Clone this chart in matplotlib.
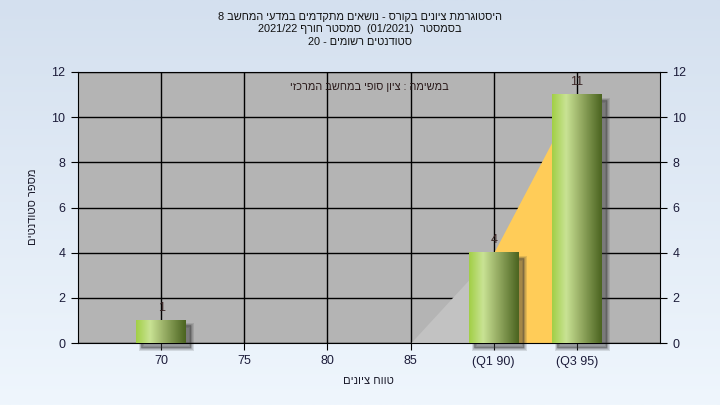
import re
import numpy as np
import matplotlib
matplotlib.use("Agg")
import matplotlib.pyplot as plt
from matplotlib.colors import LinearSegmentedColormap, to_rgb
from matplotlib.patches import Rectangle
from matplotlib.transforms import ScaledTranslation

# -----------------------------
# data
# -----------------------------
grades = [70, 75, 80, 85, 90, 95]
counts = [1, 0, 0, 0, 4, 11]
tick_labels = ["70", "75", "80", "85", "(Q1 90)", "(Q3 95)"]
area_vals = [0, 0, 0, 0, 4, 11]
q1, q3 = 90, 95
y_ticks = [0, 2, 4, 6, 8, 10, 12]

title_lines = [
    "היסטוגרמת ציונים בקורס - נושאים מתקדמים במדעי המחשב 8",
    "בסמסטר  (01/2021)  סמסטר חורף 2021/22",
    "סטודנטים רשומים - 20",
]
inner_text = "במשימה : ציון סופי במחשב המרכזי"
x_label = "טווח ציונים"
y_label = "מספר סטודנטים"


def visual(s):
    # logical hebrew -> left-to-right drawing order
    out = s[::-1]
    out = re.sub(r"[0-9A-Za-z][0-9A-Za-z/.]*[0-9A-Za-z]|[0-9A-Za-z]",
                 lambda m: m.group(0)[::-1], out)
    return out.translate(str.maketrans("()", ")("))


plt.rcParams["font.family"] = ["Liberation Sans", "DejaVu Sans"]

fig = plt.figure(figsize=(7.2, 4.05), dpi=100)

# background gradient
bg = fig.add_axes([0, 0, 1, 1], zorder=-10)
bg.axis("off")
top = np.array(to_rgb("#d4e0ef"))
bot = np.array(to_rgb("#eff6fd"))
t = np.linspace(0, 1, 256)[:, None]
grad = top * (1 - t) + bot * t
bg.imshow(grad[:, None, :], aspect="auto", extent=[0, 1, 0, 1])

ax = fig.add_axes([78 / 720, 62 / 405, 582 / 720, 271 / 405])
ax.set_facecolor("#b4b4b4")
ax.grid(True, color="black", lw=1)
ax.set_axisbelow(True)

# area (IQR highlighted)
for i in range(len(grades) - 1):
    x0, x1 = grades[i], grades[i + 1]
    a0, a1 = area_vals[i], area_vals[i + 1]
    if a0 == 0 and a1 == 0:
        continue
    col = "#ffcc58" if (x0 >= q1 and x1 <= q3) else "#c2c2c2"
    ax.fill_between([x0, x1], [a0, a1], color=col, lw=0, zorder=1.5)

# bars with gradient + soft shadow
bars = ax.bar(grades, counts, width=3, color="none", zorder=3)
cmap = LinearSegmentedColormap.from_list(
    "bar", [(0, "#a2cf47"), (0.28, "#c9e394"), (0.55, "#9bb168"), (1, "#4b6420")])
off = ScaledTranslation(5 / 100, -5 / 100, fig.dpi_scale_trans)
for b, c in zip(bars, counts):
    if c <= 0:
        continue
    x, w, h = b.get_x(), b.get_width(), b.get_height()
    for lw in [5, 3, 1.5, 0]:
        ax.add_patch(Rectangle((x, 0), w, h, transform=ax.transData + off,
                               fc="#383838", ec="#383838", lw=lw * 0.72,
                               alpha=0.14, zorder=2.5, clip_on=False))
    ax.imshow(np.linspace(0, 1, 100)[None, :], cmap=cmap, extent=[x, x + w, 0, h],
              aspect="auto", zorder=3, interpolation="bicubic")
    ax.text(b.get_x() + w / 2, h + 0.3, str(c), ha="center", va="bottom",
            fontsize=9, color="#3b2626", zorder=4)

ax.set_xlim(65, 100)
ax.set_ylim(0, 12)
ax.set_xticks(grades, tick_labels)
ax.set_yticks(y_ticks)
ax.tick_params(direction="out", length=5, labelsize=9, labelcolor="#1c1c3a",
               right=True, labelright=True, pad=4)
for s in ax.spines.values():
    s.set_color("black")

ax.text(0.5, 0.945, visual(inner_text), transform=ax.transAxes, ha="center",
        va="center", fontsize=7.8, color="#2a1a1a")

for i, line in enumerate(title_lines):
    fig.text(0.5, 1 - (17 + 12.5 * i) / 405, visual(line), ha="center", va="center",
             fontsize=7.9, color="#111111")

fig.text(368 / 720, 1 - 381 / 405, visual(x_label), ha="center", va="center",
         fontsize=8, color="#1a1a2a")
fig.text(33 / 720, 1 - 207 / 405, visual(y_label), ha="center", va="center",
         rotation=90, fontsize=8, color="#1a1a2a")

fig.savefig("out.png", dpi=100)
